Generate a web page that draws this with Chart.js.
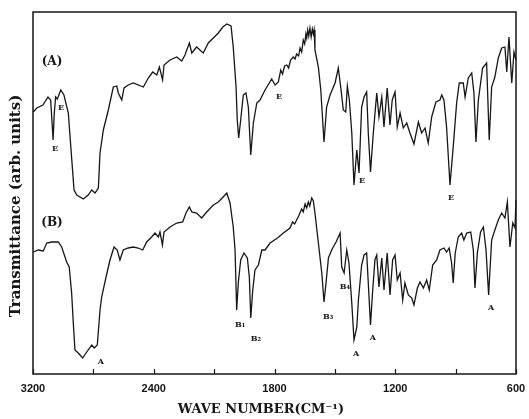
<!DOCTYPE html>
<html>
<head>
<meta charset="utf-8">
<script src="https://cdn.jsdelivr.net/npm/chart.js@4/dist/chart.umd.min.js"></script>
<style>
  html, body { margin: 0; padding: 0; background: #fff; }
  #wrap { width: 529px; height: 419px; position: relative; }
</style>
</head>
<body>
<div id="wrap"><canvas id="chart"></canvas></div>
<script>
/* IR spectra (A) and (B) */

// spectrum (A): wavenumber (cm-1) / transmittance (arb.)
var waveA = [3198, 3175, 3134, 3101, 3083, 3076, 3067, 3059, 3050, 3039, 3016, 2995, 2966, 2948, 2928, 2910, 2867, 2834, 2811, 2789, 2767, 2756, 2734, 2701, 2668, 2645, 2635, 2612, 2597, 2569, 2536, 2469, 2436, 2407, 2385, 2372, 2356, 2349, 2319, 2286, 2261, 2245, 2223, 2211, 2187, 2154, 2129, 2104, 2079, 2057, 2037, 2016, 2005, 1991, 1985, 1978, 1968, 1955, 1942, 1930, 1918, 1905, 1888, 1872, 1847, 1814, 1797, 1781, 1769, 1760, 1750, 1739, 1730, 1720, 1707, 1698, 1690, 1680, 1673, 1665, 1657, 1650, 1644, 1640, 1635, 1630, 1624, 1618, 1612, 1607, 1603, 1599, 1582, 1570, 1554, 1541, 1524, 1499, 1483, 1471, 1458, 1446, 1438, 1428, 1416, 1405, 1391, 1380, 1367, 1355, 1342, 1334, 1323, 1309, 1292, 1281, 1267, 1256, 1240, 1226, 1215, 1201, 1190, 1176, 1160, 1143, 1127, 1107, 1085, 1069, 1052, 1036, 1019, 998, 978, 969, 958, 945, 928, 912, 895, 882, 862, 853, 837, 820, 809, 799, 787, 766, 746, 733, 721, 705, 688, 671, 655, 646, 635, 621, 610, 600];
var transA = [262, 266, 269, 277, 274, 257, 234, 261, 277, 275, 284, 279, 261, 224, 184, 179, 175, 179, 184, 181, 186, 221, 244, 264, 287, 288, 281, 274, 286, 289, 291, 287, 296, 302, 299, 307, 294, 309, 314, 317, 313, 319, 331, 321, 327, 321, 331, 336, 341, 347, 350, 348, 327, 287, 254, 236, 254, 279, 281, 267, 219, 251, 271, 274, 284, 295, 289, 292, 304, 300, 308, 309, 306, 314, 317, 315, 320, 318, 326, 322, 334, 330, 340, 336, 344, 338, 346, 337, 345, 340, 344, 324, 307, 284, 232, 267, 279, 291, 306, 287, 264, 262, 288, 274, 241, 189, 224, 201, 267, 277, 282, 241, 202, 241, 281, 257, 277, 247, 286, 249, 274, 282, 247, 261, 246, 251, 241, 230, 252, 241, 246, 231, 257, 272, 274, 279, 274, 247, 189, 227, 271, 291, 291, 277, 296, 301, 281, 232, 274, 306, 311, 234, 287, 297, 316, 326, 327, 302, 337, 291, 322, 314];

// spectrum (B)
var waveB = [3198, 3165, 3132, 3109, 3076, 3032, 3010, 2977, 2960, 2944, 2933, 2922, 2900, 2871, 2844, 2811, 2794, 2774, 2756, 2745, 2716, 2690, 2663, 2642, 2624, 2602, 2569, 2536, 2503, 2473, 2447, 2414, 2394, 2377, 2369, 2357, 2349, 2319, 2286, 2256, 2240, 2223, 2211, 2187, 2162, 2137, 2104, 2079, 2060, 2037, 2021, 2005, 1996, 1988, 1980, 1968, 1952, 1935, 1925, 1918, 1908, 1897, 1880, 1863, 1847, 1822, 1785, 1756, 1723, 1710, 1700, 1690, 1680, 1665, 1657, 1648, 1640, 1632, 1625, 1615, 1607, 1599, 1582, 1565, 1554, 1544, 1532, 1516, 1494, 1474, 1466, 1454, 1441, 1430, 1416, 1405, 1391, 1383, 1367, 1355, 1342, 1334, 1323, 1313, 1301, 1292, 1281, 1267, 1256, 1240, 1226, 1213, 1201, 1190, 1176, 1163, 1152, 1135, 1118, 1107, 1090, 1077, 1060, 1044, 1031, 1014, 994, 978, 958, 945, 932, 920, 912, 902, 887, 870, 859, 845, 825, 812, 804, 792, 776, 762, 749, 736, 721, 705, 688, 671, 655, 643, 630, 616, 605, 600];
var transB = [122, 124, 123, 131, 132, 132, 127, 112, 107, 81, 51, 24, 21, 16, 22, 29, 26, 29, 64, 77, 97, 114, 127, 124, 114, 124, 126, 127, 126, 124, 132, 137, 141, 137, 142, 129, 142, 147, 151, 152, 161, 167, 162, 161, 156, 162, 169, 172, 176, 181, 171, 147, 124, 64, 91, 114, 121, 116, 97, 56, 84, 104, 109, 124, 124, 131, 136, 141, 146, 152, 150, 154, 158, 165, 162, 170, 166, 172, 168, 176, 173, 161, 131, 101, 72, 91, 116, 124, 132, 141, 107, 101, 124, 111, 71, 34, 47, 74, 109, 119, 121, 91, 49, 81, 114, 119, 87, 116, 84, 121, 79, 114, 119, 94, 101, 74, 91, 79, 76, 69, 86, 92, 86, 94, 84, 109, 114, 124, 126, 122, 126, 111, 91, 121, 137, 141, 134, 141, 142, 124, 86, 121, 142, 147, 124, 79, 134, 144, 154, 161, 156, 172, 127, 151, 146, 174];

// x axis ticks (chart paper: 400 cm-1 per division above 2400, 300 below)
var tickWaves = [3200, 2800, 2400, 2100, 1800, 1500, 1200, 900, 600];
var tickLabels = ['3200', '', '2400', '', '1800', '', '1200', '', '600'];

// band labels
var markText = ['E', 'E', 'E', 'E', 'E', 'A', 'B\u2081', 'B\u2082', 'B\u2083', 'B\u2084', 'A', 'A', 'A'];
var markWave = [3054, 3014, 1778, 1365, 923, 2750, 1971, 1892, 1534, 1450, 1395, 1311, 724];
var markTrans = [225, 266, 277, 193, 176, 12, 49, 35, 57, 87, 20, 36, 66];

// panel labels
var panelText = ['(A)', '(B)'];
var panelWave = [3074, 3074];
var panelTrans = [312, 151];

function waveToDiv(w) {
    return w >= 2400 ? (3200 - w) / 400 : 2 + (2400 - w) / 300;
}

class WaveScale extends Chart.LinearScale {
    buildTicks() {
        return tickWaves.map(function(v) { return { value: v }; });
    }
    getPixelForValue(v) {
        return this.getPixelForDecimal(waveToDiv(v) / 8);
    }
    getValueForPixel(p) {
        var d = this.getDecimalForPixel(p) * 8;
        return d <= 2 ? 3200 - d * 400 : 2400 - (d - 2) * 300;
    }
}
WaveScale.id = 'wave';
WaveScale.defaults = Chart.LinearScale.defaults;
Chart.register(WaveScale);

function toPoints(xs, ys) {
    return xs.map(function(x, i) { return { x: x, y: ys[i] }; });
}

var INK = '#161616';

// frame, inward ticks, titles, band labels
var paperPlugin = {
    id: 'paper',
    afterDatasetsDraw: function(chart) {
        var ctx = chart.ctx;
        var a = chart.chartArea;
        var xs = chart.scales.x, ys = chart.scales.y;
        ctx.save();
        ctx.strokeStyle = INK;
        ctx.lineWidth = 1.5;
        ctx.strokeRect(a.left, a.top, a.right - a.left, a.bottom - a.top);
        ctx.lineWidth = 1.2;
        ctx.beginPath();
        xs.ticks.forEach(function(t, i) {
            var px = Math.round(xs.getPixelForTick(i)) + 0.5;
            ctx.moveTo(px, a.bottom);
            ctx.lineTo(px, a.bottom - 5);
        });
        ctx.stroke();

        ctx.fillStyle = INK;
        ctx.textAlign = 'center';
        ctx.textBaseline = 'middle';
        ctx.font = 'bold 8px "DejaVu Serif"';
        markText.forEach(function(t, i) {
            ctx.fillText(t, xs.getPixelForValue(markWave[i]), ys.getPixelForValue(markTrans[i]));
        });
        ctx.font = 'bold 12px "DejaVu Serif"';
        panelText.forEach(function(t, i) {
            ctx.fillText(t, xs.getPixelForValue(panelWave[i]), ys.getPixelForValue(panelTrans[i]));
        });

        // axis titles
        ctx.font = 'bold 13px "DejaVu Serif"';
        ctx.fillText('WAVE NUMBER(CM\u207B\u00B9)', 261, 410);
        ctx.translate(16, 206);
        ctx.rotate(-Math.PI / 2);
        ctx.font = 'bold 15px "DejaVu Serif"';
        ctx.fillText('Transmittance (arb. units)', 0, 0);
        ctx.restore();
    }
};

new Chart(document.getElementById('chart'), {
    type: 'line',
    data: {
        datasets: [{
            label: '(A)',
            data: toPoints(waveA, transA),
            borderColor: INK,
            borderWidth: 1.3,
            pointRadius: 0,
            tension: 0,
            fill: false
        }, {
            label: '(B)',
            data: toPoints(waveB, transB),
            borderColor: INK,
            borderWidth: 1.3,
            pointRadius: 0,
            tension: 0,
            fill: false
        }]
    },
    options: {
        responsive: true,
        maintainAspectRatio: false,
        animation: false,
        layout: { padding: { top: 12, right: 13, left: 0, bottom: 0 } },
        plugins: {
            legend: { display: false },
            tooltip: { enabled: false }
        },
        scales: {
            x: {
                type: 'wave',
                position: 'bottom',
                grid: { display: false },
                border: { display: false },
                ticks: {
                    autoSkip: false,
                    maxRotation: 0,
                    padding: 0,
                    color: INK,
                    font: { family: 'Liberation Sans', size: 11, weight: 'bold' },
                    callback: function(v, i) { return tickLabels[i]; }
                },
                afterFit: function(s) { s.height = 45; }
            },
            y: {
                type: 'linear',
                min: 0,
                max: 362,
                grid: { display: false },
                border: { display: false },
                ticks: { display: false },
                afterFit: function(s) { s.width = 33; }
            }
        }
    },
    plugins: [paperPlugin]
});
</script>
</body>
</html>
